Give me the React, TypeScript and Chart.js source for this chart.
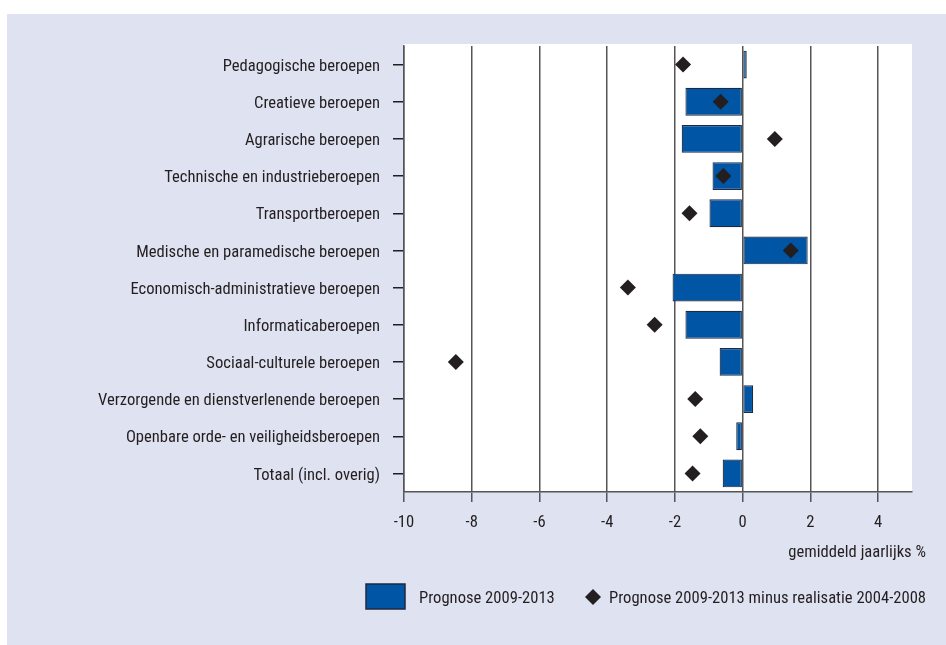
import React, { useEffect, useRef } from "react";
import { Chart, registerables } from "chart.js";

Chart.register(...registerables);

const categories = [
  "Pedagogische beroepen",
  "Creatieve beroepen",
  "Agrarische beroepen",
  "Technische en industrieberoepen",
  "Transportberoepen",
  "Medische en paramedische beroepen",
  "Economisch-administratieve beroepen",
  "Informaticaberoepen",
  "Sociaal-culturele beroepen",
  "Verzorgende en dienstverlenende beroepen",
  "Openbare orde- en veiligheidsberoepen",
  "Totaal (incl. overig)",
];

const prognose = [0.12, -1.69, -1.8, -0.89, -0.98, 1.92, -2.07, -1.69, -0.68, 0.31, -0.19, -0.59];
const verschil = [-1.76, -0.65, 0.95, -0.57, -1.57, 1.42, -3.39, -2.6, -8.47, -1.4, -1.25, -1.48];

const seriesLabels = ["Prognose 2009-2013", "Prognose 2009-2013 minus realisatie 2004-2008"];
const axisTitle = "gemiddeld jaarlijks %";

const FONT = "'Roboto Condensed', 'Open Sans Condensed', sans-serif";
const FSIZE = 16.6;
const TEXT = "#231f20";
const BLUE = "#0055a5";
const BORDER = "#1f2940";
const GRID = "#555557";

const framePlugin = {
  id: "frame",
  beforeDraw(chart: any) {
    const { ctx, chartArea } = chart;
    ctx.save();
    ctx.fillStyle = "#ffffff";
    ctx.fillRect(chartArea.left - 1, chartArea.top - 2, chartArea.right - chartArea.left + 1, chartArea.bottom - chartArea.top + 2);
    ctx.restore();
  },
  afterDraw(chart: any) {
    const { ctx } = chart;
    ctx.save();
    ctx.fillStyle = TEXT;
    ctx.font = `${FSIZE}px ${FONT}`;
    ctx.textBaseline = "middle";
    ctx.textAlign = "right";
    ctx.fillText(axisTitle, 926, 553);
    // legend
    ctx.textAlign = "left";
    ctx.fillStyle = BLUE;
    ctx.strokeStyle = BORDER;
    ctx.lineWidth = 1.5;
    ctx.fillRect(366, 584, 39, 25);
    ctx.strokeRect(366, 584, 39, 25);
    ctx.fillStyle = TEXT;
    ctx.fillText(chart.data.datasets[1].label, 419, 599);
    ctx.beginPath();
    ctx.moveTo(593 - 8, 597);
    ctx.lineTo(593, 597 - 8);
    ctx.lineTo(593 + 8, 597);
    ctx.lineTo(593, 597 + 8);
    ctx.closePath();
    ctx.fill();
    ctx.fillText(chart.data.datasets[0].label, 609, 599);
    ctx.restore();
  },
};

export default function App() {
  const ref = useRef<HTMLCanvasElement | null>(null);
  useEffect(() => {
    if (!ref.current) return;
    const chart = new Chart(ref.current, {
      type: "bar",
      data: {
        labels: categories,
        datasets: [
          {
            type: "line",
            label: seriesLabels[1],
            data: verschil,
            showLine: false,
            pointStyle: "rectRot",
            pointRadius: 8,
            pointHoverRadius: 8,
            pointBackgroundColor: TEXT,
            pointBorderColor: TEXT,
            pointBorderWidth: 0,
            order: 0,
          } as any,
          {
            type: "bar",
            label: seriesLabels[0],
            data: prognose,
            backgroundColor: BLUE,
            borderColor: BORDER,
            borderWidth: 1.2,
            borderSkipped: false,
            barPercentage: 0.75,
            categoryPercentage: 1,
            order: 1,
          },
        ],
      },
      options: {
        indexAxis: "y",
        animation: false,
        responsive: false,
        maintainAspectRatio: false,
        layout: { padding: { left: 0, right: 34, top: 46, bottom: 0 } },
        plugins: { legend: { display: false }, tooltip: { enabled: false } },
        scales: {
          x: {
            type: "linear",
            min: -10,
            max: 5,
            border: { display: true, color: GRID, width: 1.5 },
            grid: { color: GRID, lineWidth: 1.5, tickLength: 10, drawTicks: true },
            ticks: {
              stepSize: 2,
              includeBounds: false,
              color: TEXT,
              font: { family: FONT, size: FSIZE },
              padding: 11,
              maxRotation: 0,
            },
            afterFit: (s: any) => {
              s.height = 645 - 492;
            },
          },
          y: {
            type: "category",
            offset: true,
            border: { display: true, color: GRID, width: 1.5 },
            grid: { drawOnChartArea: false, offset: false, tickLength: 11, color: "#231f20", lineWidth: 1.5 },
            ticks: {
              color: TEXT,
              font: { family: FONT, size: FSIZE },
              padding: 13,
              labelOffset: 2,
            },
            afterFit: (s: any) => {
              s.width = 404;
            },
          },
        },
      },
      plugins: [framePlugin],
    });
    return () => chart.destroy();
  }, []);

  return (
    <div style={{ position: "fixed", left: 0, top: 0, width: 946, height: 645, background: "#ffffff" }}>
      <div style={{ position: "absolute", left: 7, top: 14, right: 0, bottom: 0, background: "#dfe2f1" }} />
      <canvas ref={ref} width={946} height={645} style={{ position: "absolute", left: 0, top: 0, width: 946, height: 645 }} />
    </div>
  );
}
